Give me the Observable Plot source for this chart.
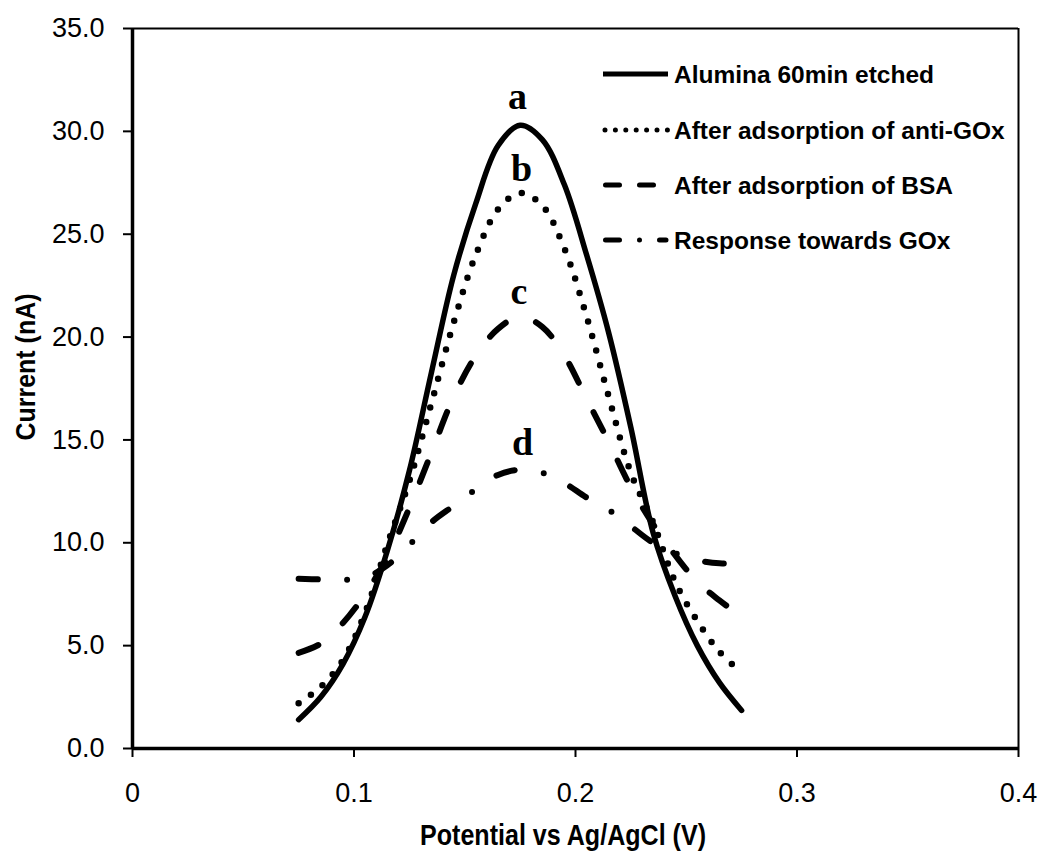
<!DOCTYPE html>
<html>
<head>
<meta charset="utf-8">
<script src="https://cdn.jsdelivr.net/npm/d3@7"></script>
<script src="https://cdn.jsdelivr.net/npm/@observablehq/plot@0.6"></script>
<style>
  html, body { margin: 0; padding: 0; background: #fff; }
  #chart { position: relative; width: 1041px; height: 854px; }
</style>
</head>
<body>
<div id="chart"></div>
<script>
// Differential pulse voltammetry: current vs applied potential
const potential = [0.075, 0.085, 0.095, 0.105, 0.115, 0.125, 0.135, 0.145, 0.155, 0.165, 0.175,
                   0.185, 0.195, 0.205, 0.215, 0.225, 0.235, 0.245, 0.255, 0.265, 0.275];

const alumina = [1.4, 2.5, 4.1, 6.4, 9.6, 13.5, 18.3, 23.0, 26.5, 29.3, 30.3,
                 29.6, 27.4, 24.0, 20.2, 15.6, 10.5, 7.4, 5.0, 3.2, 1.85];
const antiGOx = [2.2, 3.0, 4.3, 6.6, 9.9, 13.0, 16.8, 20.7, 24.0, 26.2, 27.0,
                 26.4, 24.3, 21.0, 17.1, 13.4, 11.0, 8.1, 6.2, 4.7, 3.7];
const bsa     = [4.65, 5.1, 6.1, 7.5, 9.3, 11.7, 14.4, 17.1, 19.1, 20.4, 21.0,
                 20.5, 19.1, 17.0, 14.9, 12.7, 10.9, 9.4, 8.1, 7.2, 6.4];
const gox     = [8.25, 8.22, 8.2, 8.3, 8.9, 9.9, 11.0, 11.8, 12.6, 13.3, 13.55,
                 13.4, 12.9, 12.2, 11.6, 10.8, 10.0, 9.5, 9.15, 9.0, 9.05];

const seriesNames = ["Alumina 60min etched", "After adsorption of anti-GOx",
                     "After adsorption of BSA", "Response towards GOx"];
const seriesValues = [alumina, antiGOx, bsa, gox];

// Curve tags placed above each peak
const tagText = ["a", "b", "c", "d"];
const tagX = [0.1738, 0.1756, 0.1745, 0.1761];
const tagY = [31.1, 27.6, 21.6, 14.25];

const xTicks = [0, 0.1, 0.2, 0.3, 0.4];
const yTicks = [0, 5, 10, 15, 20, 25, 30, 35];

const xTitle = "Potential vs Ag/AgCl (V)";
const yTitle = "Current (nA)";

// Line styles per series (stroke width, dash pattern)
const styles = [
  {dash: null, width: 5.5},
  {dash: "0 15", width: 6.5},
  {dash: "21 33", width: 6},
  {dash: "19 29.5 0 29.5", width: 6}
];

const rows = seriesNames.flatMap((name, i) =>
  potential.map((p, j) => ({series: name, potential: p, current: seriesValues[i][j]})));
const tags = tagText.map((t, i) => ({text: t, x: tagX[i], y: tagY[i]}));

const sans = "'Liberation Sans', Arial, sans-serif";

const lineMarks = seriesNames.map((name, i) =>
  Plot.line(rows.filter(d => d.series === name), {
    x: "potential", y: "current", curve: "catmull-rom",
    stroke: "black", strokeWidth: styles[i].width,
    strokeDasharray: styles[i].dash, strokeLinecap: "round", strokeLinejoin: "round"
  }));

const chart = Plot.plot({
  width: 1041,
  height: 854,
  marginLeft: 132,
  marginRight: 23,
  marginTop: 28,
  marginBottom: 106,
  style: {fontFamily: sans, fontSize: "27px", color: "black", background: "white"},
  x: {domain: [0, 0.4]},
  y: {domain: [0, 35]},
  marks: [
    Plot.axisX({ticks: xTicks, tickFormat: d => String(d), tickSize: 9, tickPadding: 25,
                strokeWidth: 2, label: null}),
    Plot.axisY({ticks: yTicks, tickFormat: d => d.toFixed(1), tickSize: 9, tickPadding: 19,
                strokeWidth: 2, label: null}),
    Plot.ruleY([35], {stroke: "black", strokeWidth: 2}),
    Plot.ruleX([0.4], {stroke: "black", strokeWidth: 2}),
    Plot.ruleX([0], {stroke: "black", strokeWidth: 3.5}),
    Plot.ruleY([0], {stroke: "black", strokeWidth: 3.5}),
    ...lineMarks,
    Plot.text(tags, {x: "x", y: "y", text: "text", lineAnchor: "bottom",
                     fontFamily: "'Liberation Serif', 'Times New Roman', serif",
                     fontWeight: "bold", fontSize: 38, fill: "black"})
  ]
});

document.getElementById("chart").appendChild(chart);
const svg = d3.select(chart);

// Axis titles: condensed bold type, fitted to a fixed run length
svg.append("text")
  .attr("x", 563).attr("y", 845)
  .attr("text-anchor", "middle")
  .attr("font-family", sans).attr("font-weight", "bold").attr("font-size", 29)
  .attr("textLength", 286).attr("lengthAdjust", "spacingAndGlyphs")
  .attr("fill", "black")
  .text(xTitle);

svg.append("text")
  .attr("transform", "translate(35,367) rotate(-90)")
  .attr("text-anchor", "middle")
  .attr("font-family", sans).attr("font-weight", "bold").attr("font-size", 28)
  .attr("textLength", 147).attr("lengthAdjust", "spacingAndGlyphs")
  .attr("fill", "black")
  .text(yTitle);

// Legend in the upper right of the plot area
const legendStyles = [
  {dash: null, width: 5, cap: "butt", x0: 603, x1: 668},
  {dash: "0 10.4", width: 5, cap: "round", x0: 605, x1: 668},
  {dash: "14 20", width: 5, cap: "round", x0: 605.5, x1: 668},
  {dash: "14 20 0 20", width: 5, cap: "round", x0: 605.5, x1: 666}
];
const legendRowY = [74, 130, 185, 240];
const legend = svg.append("g").attr("class", "legend");
seriesNames.forEach((name, i) => {
  const s = legendStyles[i];
  legend.append("line")
    .attr("x1", s.x0).attr("x2", s.x1)
    .attr("y1", legendRowY[i]).attr("y2", legendRowY[i])
    .attr("stroke", "black").attr("stroke-width", s.width)
    .attr("stroke-linecap", s.cap)
    .attr("stroke-dasharray", s.dash);
  legend.append("text")
    .attr("x", 674).attr("y", legendRowY[i]).attr("dy", "0.35em")
    .attr("text-anchor", "start")
    .attr("font-family", sans).attr("font-weight", "bold").attr("font-size", 24.5)
    .attr("fill", "black")
    .text(name);
});
</script>
</body>
</html>
